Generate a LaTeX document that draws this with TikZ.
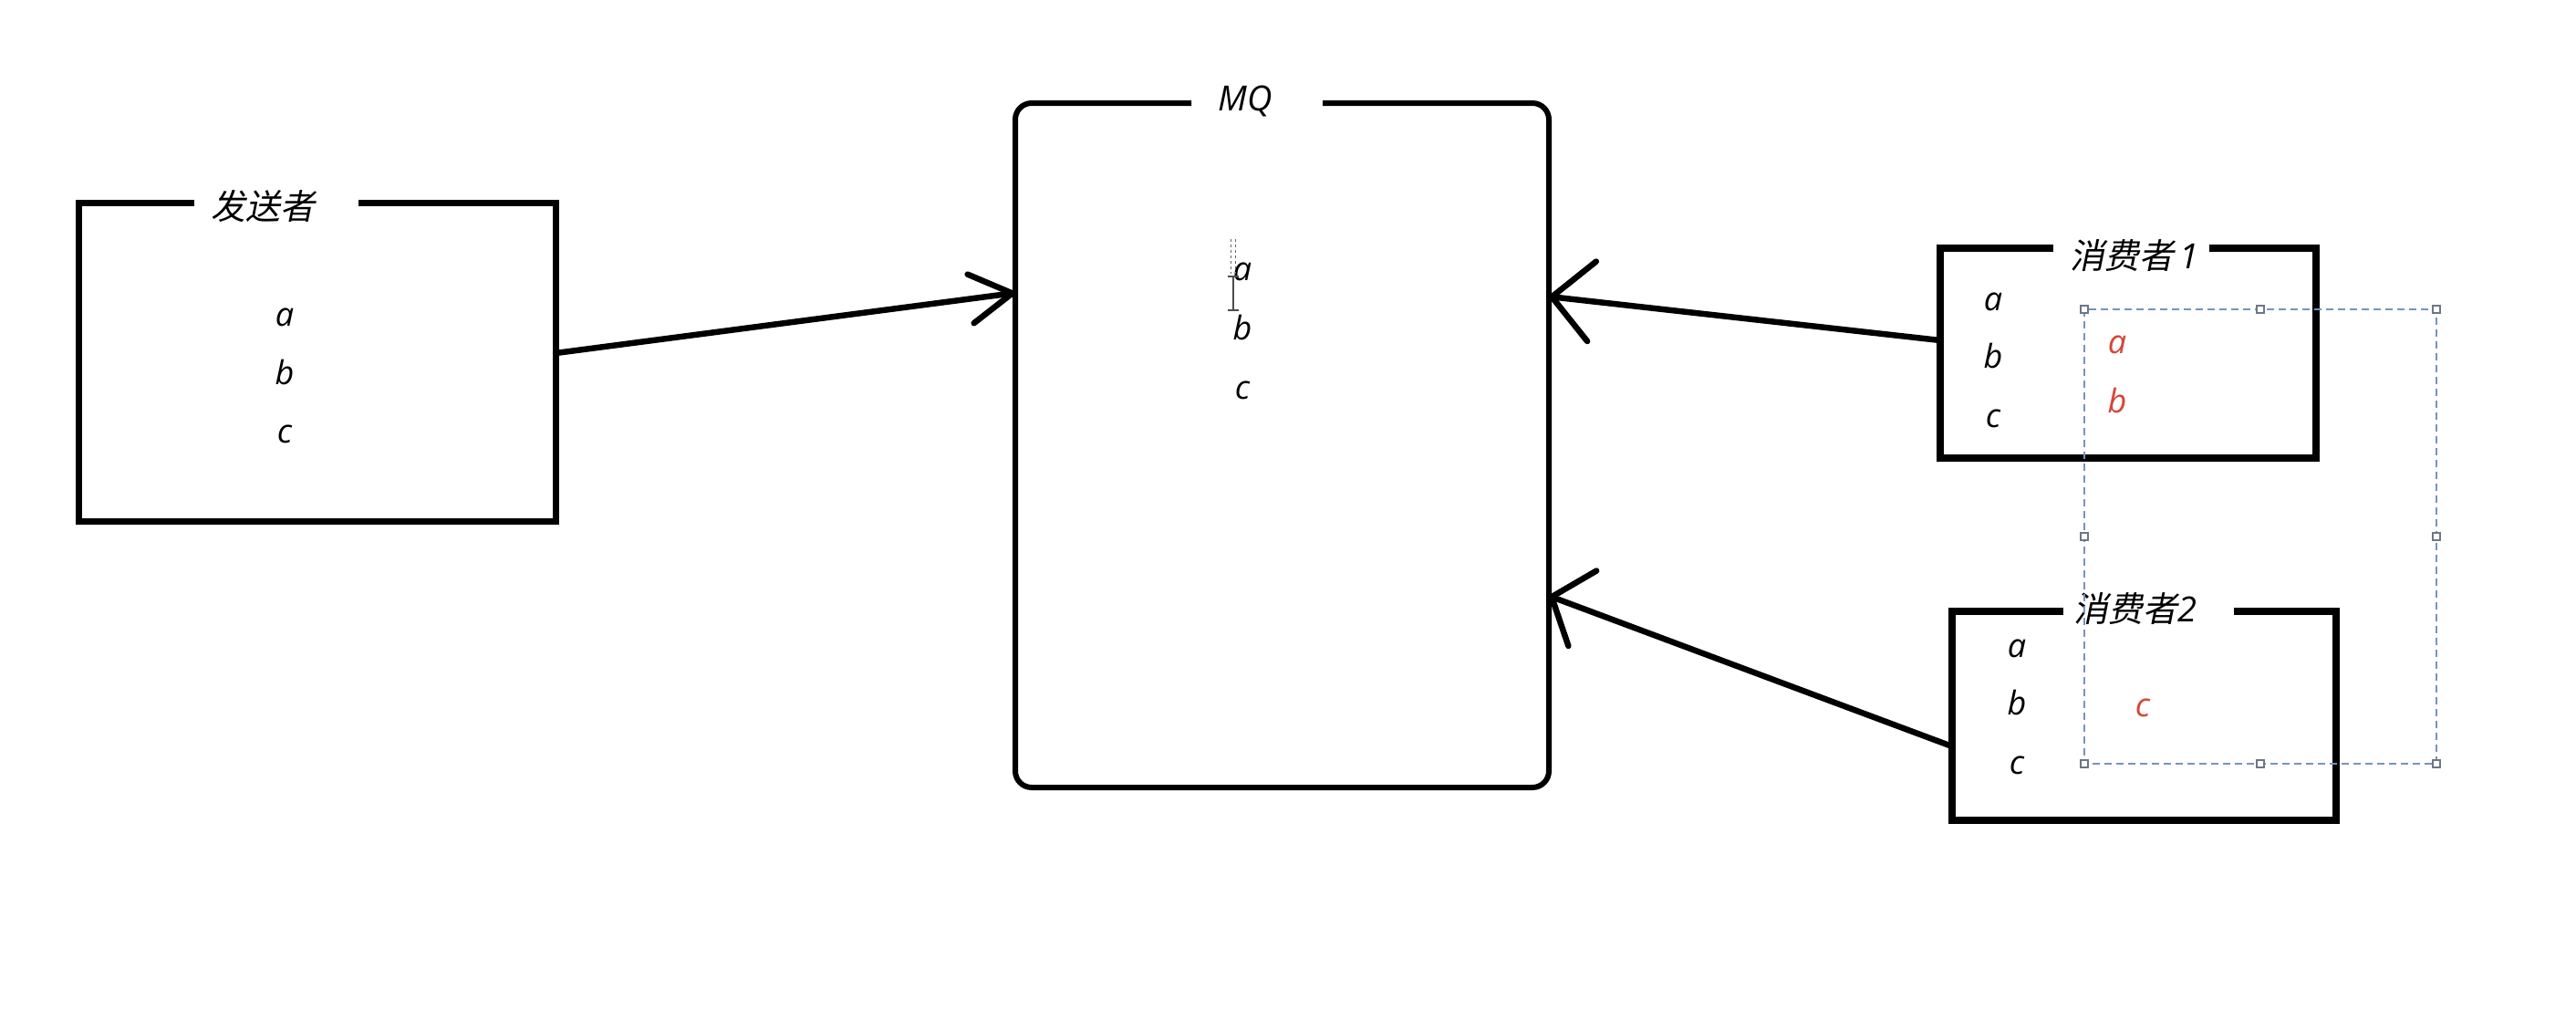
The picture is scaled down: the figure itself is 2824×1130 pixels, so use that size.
\documentclass[tikz,border=0pt]{standalone}
\usepackage{fontspec}
\setmainfont{Open Sans}
\newfontfamily\cjk[FakeSlant=0.2]{Noto Sans CJK SC}
\usetikzlibrary{arrows.meta}
\definecolor{redtxt}{RGB}{214,70,56}
\definecolor{selblue}{RGB}{118,148,190}
\definecolor{selgray}{RGB}{110,118,135}
\begin{document}
\begin{tikzpicture}[x=1pt,y=-1pt,
  boxline/.style={line width=7pt, line join=miter, line cap=butt},
  frame/.style={draw=none, inner sep=0pt, outer sep=0pt, rectangle},
  letter/.style={font=\fontsize{36}{40}\selectfont\itshape, inner sep=0pt, anchor=base},
  redletter/.style={letter, text=redtxt},
  title/.style={font=\fontsize{38}{44}\selectfont\itshape, inner sep=0pt},
  arr/.style={line width=6.5pt, line cap=round},
  handle/.style={draw=selgray, fill=white, line width=1.2pt, minimum size=8pt, inner sep=0pt, rectangle},
  sel/.style={draw=selblue, line width=2pt, dash pattern=on 8pt off 5pt}
]
\useasboundingbox (0,0) rectangle (2824,1130);
\fill[white] (0,0) rectangle (2824,1130);

% ---------- frames ----------
\node[frame, minimum width=523pt, minimum height=349pt] (snd) at (347.5,396.5) {};
\node[frame, minimum width=585pt, minimum height=750pt] (mq) at (1405.5,488) {};
\node[frame, minimum width=412pt, minimum height=230pt] (c1) at (2333,387) {};
\node[frame, minimum width=421pt, minimum height=229pt] (c2) at (2350.5,784.5) {};

% sender outline with title gap
\draw[boxline] (213,222) -- (snd.north west) -- (snd.south west) -- (snd.south east) -- (snd.north east) -- (393,222);
% MQ outline with rounded corners
\draw[boxline, line width=6pt, rounded corners=18pt] (1306,113) -- (mq.north west) -- (mq.south west) -- (mq.south east) -- (mq.north east) -- (1450,113);
% consumer outlines
\draw[boxline, line width=7.5pt] (2251,272) -- (c1.north west) -- (c1.south west) -- (c1.south east) -- (c1.north east) -- (2422,272);
\draw[boxline, line width=7.5pt] (2262,670) -- (c2.north west) -- (c2.south west) -- (c2.south east) -- (c2.north east) -- (2449,670);

% ---------- titles ----------
\node[title] (sndT) at (288,226) {\cjk 发送者};
\node[title] (mqT) at (1365,111) {MQ};
\node[title] (c1T) at (2340,280) {{\cjk 消费者}\,1};
\node[title] (c2T) at (2341,667) {{\cjk 消费者}2};

% ---------- letters ----------
\node[letter] (sa) at (312,357) {a};
\node[letter] (sb) at (312,421) {b};
\node[letter] (sc) at (312,485) {c};

\node[letter] (ma) at (1362,307) {a};
\node[letter] (mb) at (1362,372) {b};
\node[letter] (mc) at (1362,437) {c};

\node[letter] (c1a) at (2185,340) {a};
\node[letter] (c1b) at (2185,403) {b};
\node[letter] (c1c) at (2185,468) {c};
\node[redletter] (c1ra) at (2321,387) {a};
\node[redletter] (c1rb) at (2321,452) {b};

\node[letter] (c2a) at (2211,720) {a};
\node[letter] (c2b) at (2211,783) {b};
\node[letter] (c2c) at (2211,848) {c};
\node[redletter] (c2rc) at (2349,785) {c};

% ---------- text cursor ----------
\draw[line width=1.5pt, draw=black!70] (1352,303) -- (1352,340)
  (1346,303) -- (1358,303) (1346,340) -- (1358,340);
\draw[line width=1pt, draw=black!60, dash pattern=on 3pt off 3pt] (1349,262) -- (1349,300) (1354,262) -- (1354,300);

% ---------- connectors ----------
\draw[arr, -{Straight Barb[length=46pt,width=54pt,line cap=round,line join=round]}]
  ([yshift=9.5pt]snd.east) -- ([yshift=167pt]mq.west);
\draw[arr, -{Straight Barb[length=44pt,width=88pt,line cap=round,line join=round]}]
  ([yshift=14pt]c1.west) -- ([yshift=163pt]mq.east);
\draw[arr, -{Straight Barb[length=36pt,width=88pt,line cap=round,line join=round]}]
  ([yshift=-33.5pt]c2.west) -- ([yshift=-165pt]mq.east);

% ---------- selection rectangle ----------
\coordinate (s1) at (2285,339);
\coordinate (s2) at (2671,837);
\draw[sel] (s1) rectangle (s2);
\foreach \p in {(2285,339),(2478,339),(2671,339),(2285,588),(2671,588),(2285,837),(2478,837),(2671,837)}
  \node[handle] at \p {};
\end{tikzpicture}
\end{document}
